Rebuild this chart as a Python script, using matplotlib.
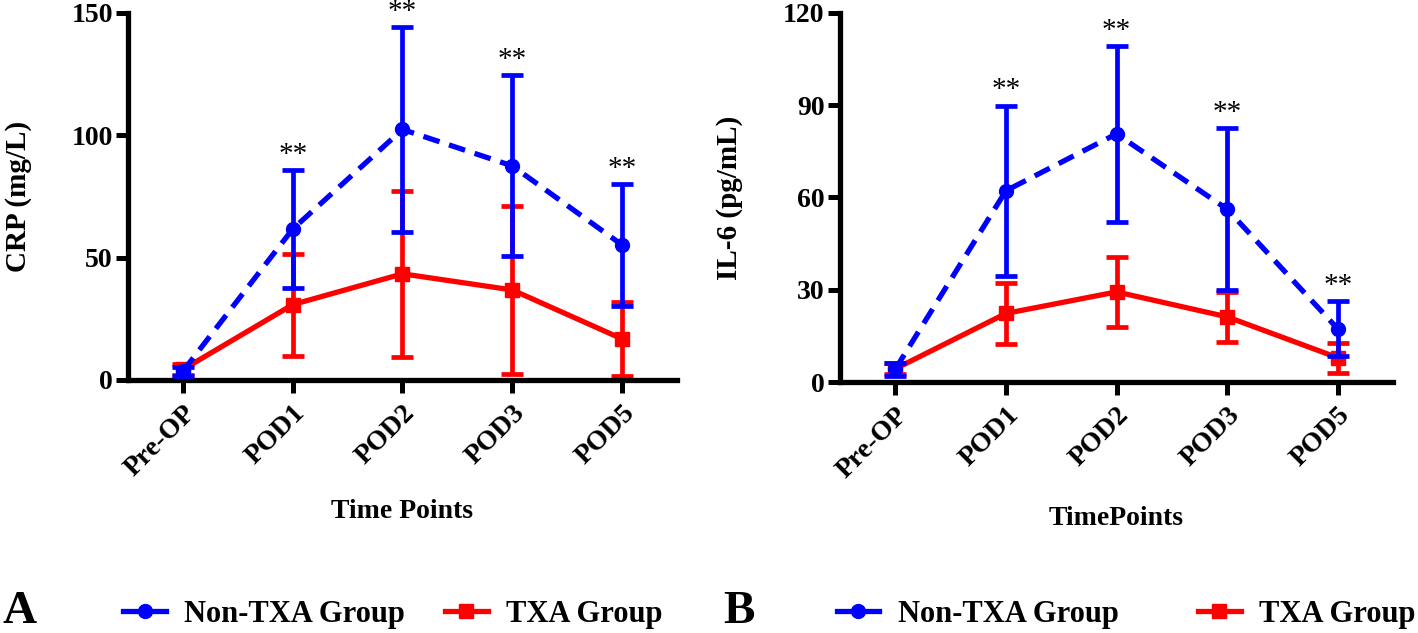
import matplotlib
matplotlib.use('Agg')
import matplotlib.pyplot as plt
from matplotlib.lines import Line2D

# data (mean, SD)
timepoints = ['Pre-OP', 'POD1', 'POD2', 'POD3', 'POD5']

crp_non_mean = [3.6, 61.7, 102.4, 87.5, 55.2]
crp_non_sd = [1.9, 24.0, 42.0, 37.0, 25.0]
crp_txa_mean = [4.3, 30.8, 43.4, 36.8, 16.8]
crp_txa_sd = [2.2, 20.8, 34.0, 34.5, 15.2]

il6_non_mean = [4.2, 62.2, 80.7, 56.2, 17.3]
il6_non_sd = [2.1, 27.7, 28.6, 26.4, 9.0]
il6_txa_mean = [4.3, 22.3, 29.3, 21.2, 7.9]
il6_txa_sd = [1.8, 9.8, 11.3, 8.2, 4.9]

crp_stars = ['', '**', '**', '**', '**']
il6_stars = ['', '**', '**', '**', '**']

plt.rcParams['font.family'] = ['Liberation Serif', 'DejaVu Serif']
plt.rcParams['font.weight'] = 'bold'

BLUE = '#0000ff'
RED = '#ff0000'

fig = plt.figure(figsize=(14.18, 6.33), dpi=100)
axA = fig.add_axes([0.0903, 0.3997, 0.3871, 0.5798])
axB = fig.add_axes([0.5924, 0.3965, 0.3900, 0.5830])


def draw_panel(ax, non_mean, non_sd, txa_mean, txa_sd, stars, ymax, yticks,
               ylabel, xlabel, xlabel_y):
    x = list(range(len(timepoints)))
    ax.errorbar(x, txa_mean, yerr=txa_sd, color=RED, lw=3.8, marker='s',
                ms=10, elinewidth=3.4, capsize=8, capthick=3.4, zorder=2,
                clip_on=False)
    ax.errorbar(x, non_mean, yerr=non_sd, color=BLUE, lw=3.8, marker='o',
                ms=10, elinewidth=3.4, capsize=8, capthick=3.4, zorder=3,
                dashes=(3.2, 1.9), clip_on=False)
    for xi, m, s, st in zip(x, non_mean, non_sd, stars):
        if st:
            ax.annotate(st, (xi, m + s), xytext=(0, 1.5), textcoords='offset points',
                        ha='center', va='bottom', fontsize=21,
                        fontweight='normal')
    ax.set_xlim(-0.5, 4.5)
    ax.set_ylim(0, ymax)
    ax.set_yticks(yticks)
    ax.set_xticks(x)
    ax.set_xticklabels(timepoints, rotation=45, ha='right',
                       rotation_mode='anchor')
    for side in ['top', 'right']:
        ax.spines[side].set_visible(False)
    for side in ['left', 'bottom']:
        ax.spines[side].set_linewidth(3.8)
    ax.tick_params(axis='both', direction='out', length=9, width=3.6,
                   labelsize=20, pad=2)
    ax.tick_params(axis='x', pad=6)
    ax.set_ylabel(ylabel, fontsize=21, fontweight='bold')
    ax.yaxis.set_label_coords(-0.175, 0.5)
    ax.set_xlabel(xlabel, fontsize=20, fontweight='bold')
    ax.xaxis.set_label_coords(0.5, xlabel_y)


draw_panel(axA, crp_non_mean, crp_non_sd, crp_txa_mean, crp_txa_sd, crp_stars,
           150, [0, 50, 100, 150], 'CRP (mg/L)', 'Time Points', -0.325)
draw_panel(axB, il6_non_mean, il6_non_sd, il6_txa_mean, il6_txa_sd, il6_stars,
           120, [0, 30, 60, 90, 120], 'IL-6 (pg/mL)', 'TimePoints', -0.335)

handles = [Line2D([], [], color=BLUE, lw=3.8, marker='o', ms=10),
           Line2D([], [], color=RED, lw=3.8, marker='s', ms=10)]
labels = ['Non-TXA Group', 'TXA Group']

fig.text(0.002, 0.016, 'A', fontsize=34, fontweight='bold', va='baseline')
fig.text(0.510, 0.016, 'B', fontsize=34, fontweight='bold', va='baseline')
fig.legend(handles, labels, ncol=2, loc='center left',
           bbox_to_anchor=(0.087, 0.030), frameon=False, fontsize=22,
           handlelength=1.4, handletextpad=0.6, columnspacing=1.3,
           borderaxespad=0, borderpad=0)
fig.legend(handles, labels, ncol=2, loc='center left',
           bbox_to_anchor=(0.590, 0.030), frameon=False, fontsize=22,
           handlelength=1.4, handletextpad=0.6, columnspacing=2.6,
           borderaxespad=0, borderpad=0)

fig.savefig('out.png', dpi=100)
